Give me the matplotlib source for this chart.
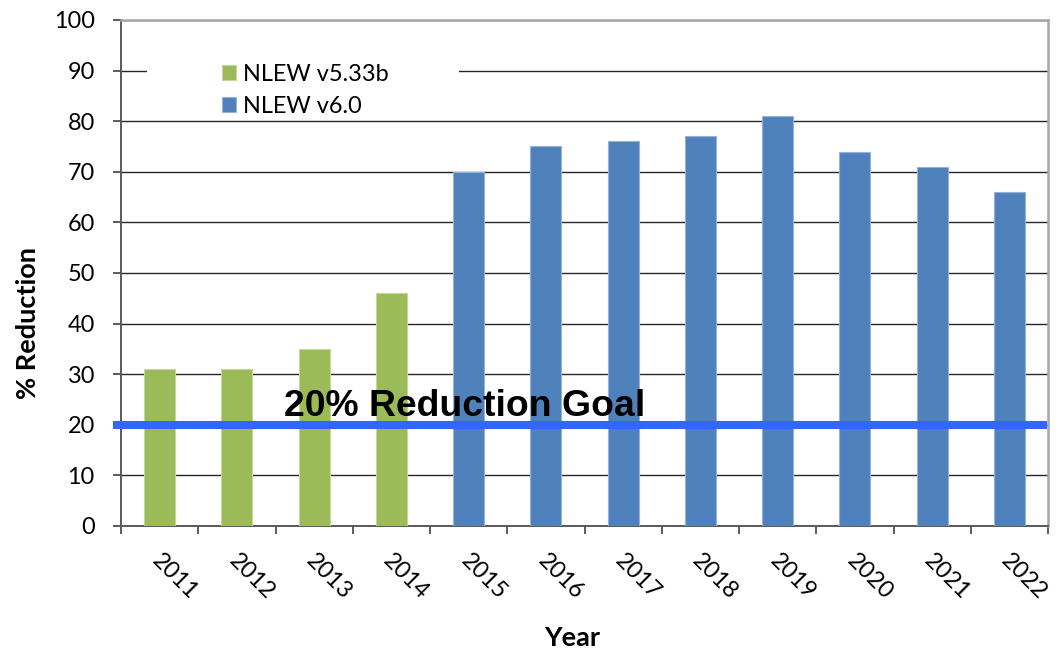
import numpy as np
import matplotlib
matplotlib.use("Agg")
import matplotlib.pyplot as plt
import matplotlib.transforms as mtransforms
from matplotlib.patches import Rectangle

# Yearly percent reduction by model version
years = ['2011', '2012', '2013', '2014', '2015', '2016',
         '2017', '2018', '2019', '2020', '2021', '2022']
v533_years = years[:4]
v533_values = [31, 31, 35, 46]
v60_years = years[4:]
v60_values = [70, 75, 76, 77, 81, 74, 71, 66]
goal_value = 20
y_ticks = list(range(0, 101, 10))

W, H = 1063, 651
fig = plt.figure(figsize=(W / 100, H / 100), dpi=100)
ax = fig.add_axes([121 / W, 1 - 526 / H, 927 / W, 506 / H])

label_font = 'Lato'
tick_size = 16.9

pos = {y: i for i, y in enumerate(years)}
ax.bar([pos[y] for y in v533_years], v533_values, width=0.4,
       color='#9BBB59', edgecolor='#C3D69B', linewidth=0.8,
       label='NLEW v5.33b', zorder=3)
ax.bar([pos[y] for y in v60_years], v60_values, width=0.4,
       color='#4F81BD', edgecolor='#95B3D7', linewidth=0.8,
       label='NLEW v6.0', zorder=3)

ax.set_xlim(-0.5, len(years) - 0.5)
ax.set_ylim(0, 100)
ax.set_yticks(y_ticks)
ax.set_yticklabels([str(t) for t in y_ticks], fontfamily=label_font,
                   fontsize=tick_size)
ax.yaxis.grid(True, color='#262626', linewidth=1.0)
ax.set_axisbelow(True)

# category labels at bar centres, tick marks on category boundaries
ax.set_xticks(np.arange(len(years)))
ax.set_xticklabels(years, fontfamily=label_font, fontsize=tick_size,
                   rotation=-45, ha='left', va='top', rotation_mode='anchor')
ax.set_xticks(np.arange(len(years) + 1) - 0.5, minor=True)
ax.tick_params(axis='x', which='major', length=0, pad=17)
ax.tick_params(axis='x', which='minor', length=5.8, width=1.2,
               color='#404040', direction='out')
ax.tick_params(axis='y', length=5.8, width=1.2, color='#404040',
               direction='out', pad=13)
offset = mtransforms.ScaledTranslation(3 / 100, 0, fig.dpi_scale_trans)
for lbl in ax.get_xticklabels():
    lbl.set_transform(lbl.get_transform() + offset)

for side in ('left', 'bottom'):
    ax.spines[side].set_color('#595959')
    ax.spines[side].set_linewidth(1.4)
for side in ('top', 'right'):
    ax.spines[side].set_color('#A6A6A6')
    ax.spines[side].set_linewidth(1.8)

# white legend area
ax.add_patch(Rectangle((26 / 927, (526 - 118) / 506), 312 / 927, 61 / 506,
                       transform=ax.transAxes, facecolor='white',
                       edgecolor='none', zorder=1))
ax.legend(loc='upper left', bbox_to_anchor=(222 / W, 1 - 64 / H),
          bbox_transform=fig.transFigure, frameon=False, borderpad=0,
          handlelength=0.6, handleheight=0.6, handletextpad=0.3,
          labelspacing=0.45, borderaxespad=0,
          prop={'family': label_font, 'size': tick_size})

# goal line and its label
blend = mtransforms.blended_transform_factory(ax.transAxes, ax.transData)
ax.plot([-8 / 927, 926 / 927], [goal_value, goal_value], transform=blend,
        color='#3366FF', linewidth=5.8, solid_capstyle='butt',
        clip_on=False, zorder=4)
ax.text(163 / 927, 21.7, '20% Reduction Goal', transform=blend,
        fontfamily='Liberation Sans', fontweight='bold', fontsize=26.9,
        ha='left', va='baseline', color='black', zorder=5)

fig.text(28 / W, 1 - 323 / H, '% Reduction', rotation=90, ha='center',
         va='center', fontfamily=label_font, fontweight='bold', fontsize=19.5)
fig.text(572 / W, 1 - 638 / H, 'Year', ha='center', va='center',
         fontfamily=label_font, fontweight='bold', fontsize=19.5)

fig.savefig('out.png', dpi=100)
